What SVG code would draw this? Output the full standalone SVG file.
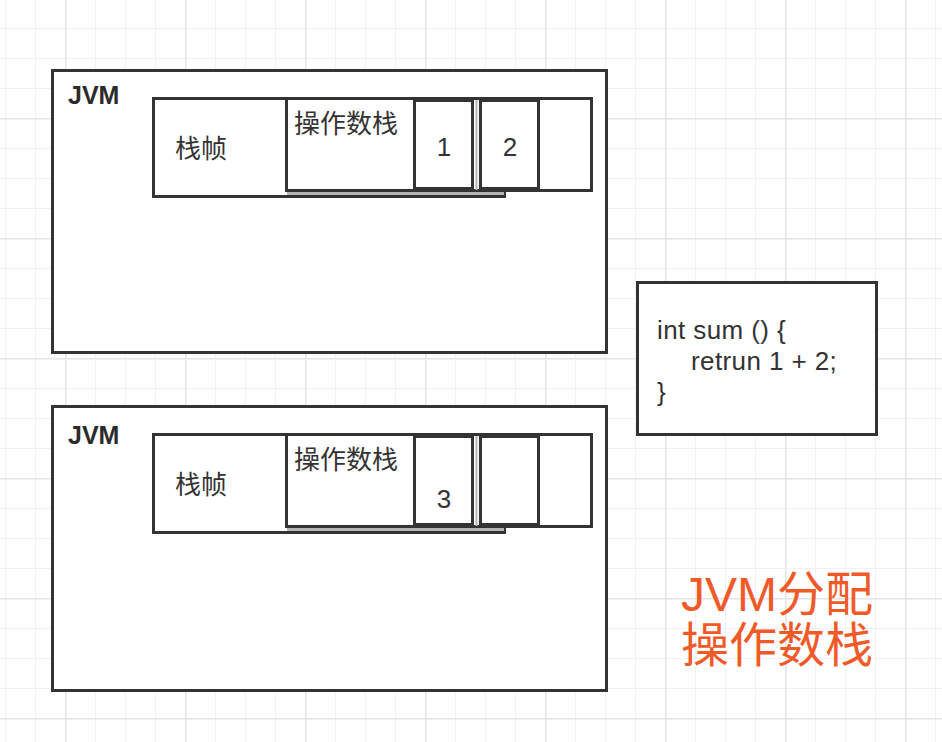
<svg xmlns="http://www.w3.org/2000/svg" width="942" height="742" viewBox="0 0 942 742">
<style>
.box{fill:#fff;stroke:#333;stroke-width:3}
.lbl{font-family:"Liberation Sans","Noto Sans CJK SC",sans-serif;fill:#333}
.cjk{font-size:26px}
.jvm{font-size:25px;font-weight:bold;fill:#2b2b2b}
.num{font-size:26px;text-anchor:middle}
.code{font-size:26px;letter-spacing:0.4px}
.red{font-family:"Liberation Sans","Noto Sans CJK SC",sans-serif;font-size:48px;fill:#f05a28}
</style>
<defs>
<pattern id="minor" width="30" height="30" x="5" y="28" patternUnits="userSpaceOnUse">
<rect x="0" y="0" width="1" height="30" fill="#f1f1f1"/>
<rect x="0" y="0" width="30" height="1" fill="#f1f1f1"/>
</pattern>
<pattern id="major" width="120" height="120" x="65" y="118" patternUnits="userSpaceOnUse">
<rect x="0" y="0" width="1.5" height="120" fill="#e4e4e4"/>
<rect x="0" y="0" width="120" height="1.5" fill="#e4e4e4"/>
</pattern>
</defs>
<rect width="942" height="742" fill="#fff"/>
<rect width="942" height="742" fill="url(#minor)"/>
<rect width="942" height="742" fill="url(#major)"/>

<g id="jvm1">
<rect class="box" x="52.5" y="70.5" width="554" height="282"/>
<text class="lbl jvm" x="68" y="104">JVM</text>
</g>
<g id="frame1">
<rect class="box" x="153.5" y="98.5" width="351" height="98"/>
<text class="lbl cjk" x="175" y="158">栈帧</text>
</g>
<g id="opstack1">
<rect x="287" y="190" width="217" height="5" fill="#b5b5b5"/>
<rect class="box" x="286.5" y="98.5" width="305" height="92"/>
<text class="lbl cjk" x="294" y="133">操作数栈</text>
</g>
<g id="slot1a">
<line x1="476.5" y1="100" x2="476.5" y2="190" stroke="#b5b5b5" stroke-width="2"/>
<rect class="box" x="414.5" y="100.5" width="58" height="88"/>
<text class="lbl num" x="444" y="156">1</text>
</g>
<g id="slot1b">
<rect class="box" x="480.5" y="100.5" width="58" height="88"/>
<text class="lbl num" x="510" y="156">2</text>
</g>

<g id="jvm2">
<rect class="box" x="52.5" y="406.5" width="554" height="284"/>
<text class="lbl jvm" x="68" y="444">JVM</text>
</g>
<g id="frame2">
<rect class="box" x="153.5" y="434.5" width="351" height="98"/>
<text class="lbl cjk" x="175" y="494">栈帧</text>
</g>
<g id="opstack2">
<rect x="287" y="526" width="217" height="5" fill="#b5b5b5"/>
<rect class="box" x="286.5" y="434.5" width="305" height="92"/>
<text class="lbl cjk" x="294" y="469">操作数栈</text>
</g>
<g id="slot2a">
<line x1="476.5" y1="436" x2="476.5" y2="526" stroke="#b5b5b5" stroke-width="2"/>
<rect class="box" x="414.5" y="436.5" width="58" height="88"/>
<text class="lbl num" x="444" y="508">3</text>
</g>
<g id="slot2b">
<rect class="box" x="480.5" y="436.5" width="58" height="88"/>
</g>

<g id="code">
<rect class="box" x="637.5" y="282.5" width="239" height="152"/>
<text class="lbl code" x="657" y="339">int sum () {</text>
<text class="lbl code" x="691" y="370">retrun 1 + 2;</text>
<text class="lbl code" x="657" y="401">}</text>
</g>

<g id="title">
<text class="red" x="681" y="611">JVM分配</text>
<text class="red" x="681" y="662">操作数栈</text>
</g>
<g id="connectors"></g>
</svg>
